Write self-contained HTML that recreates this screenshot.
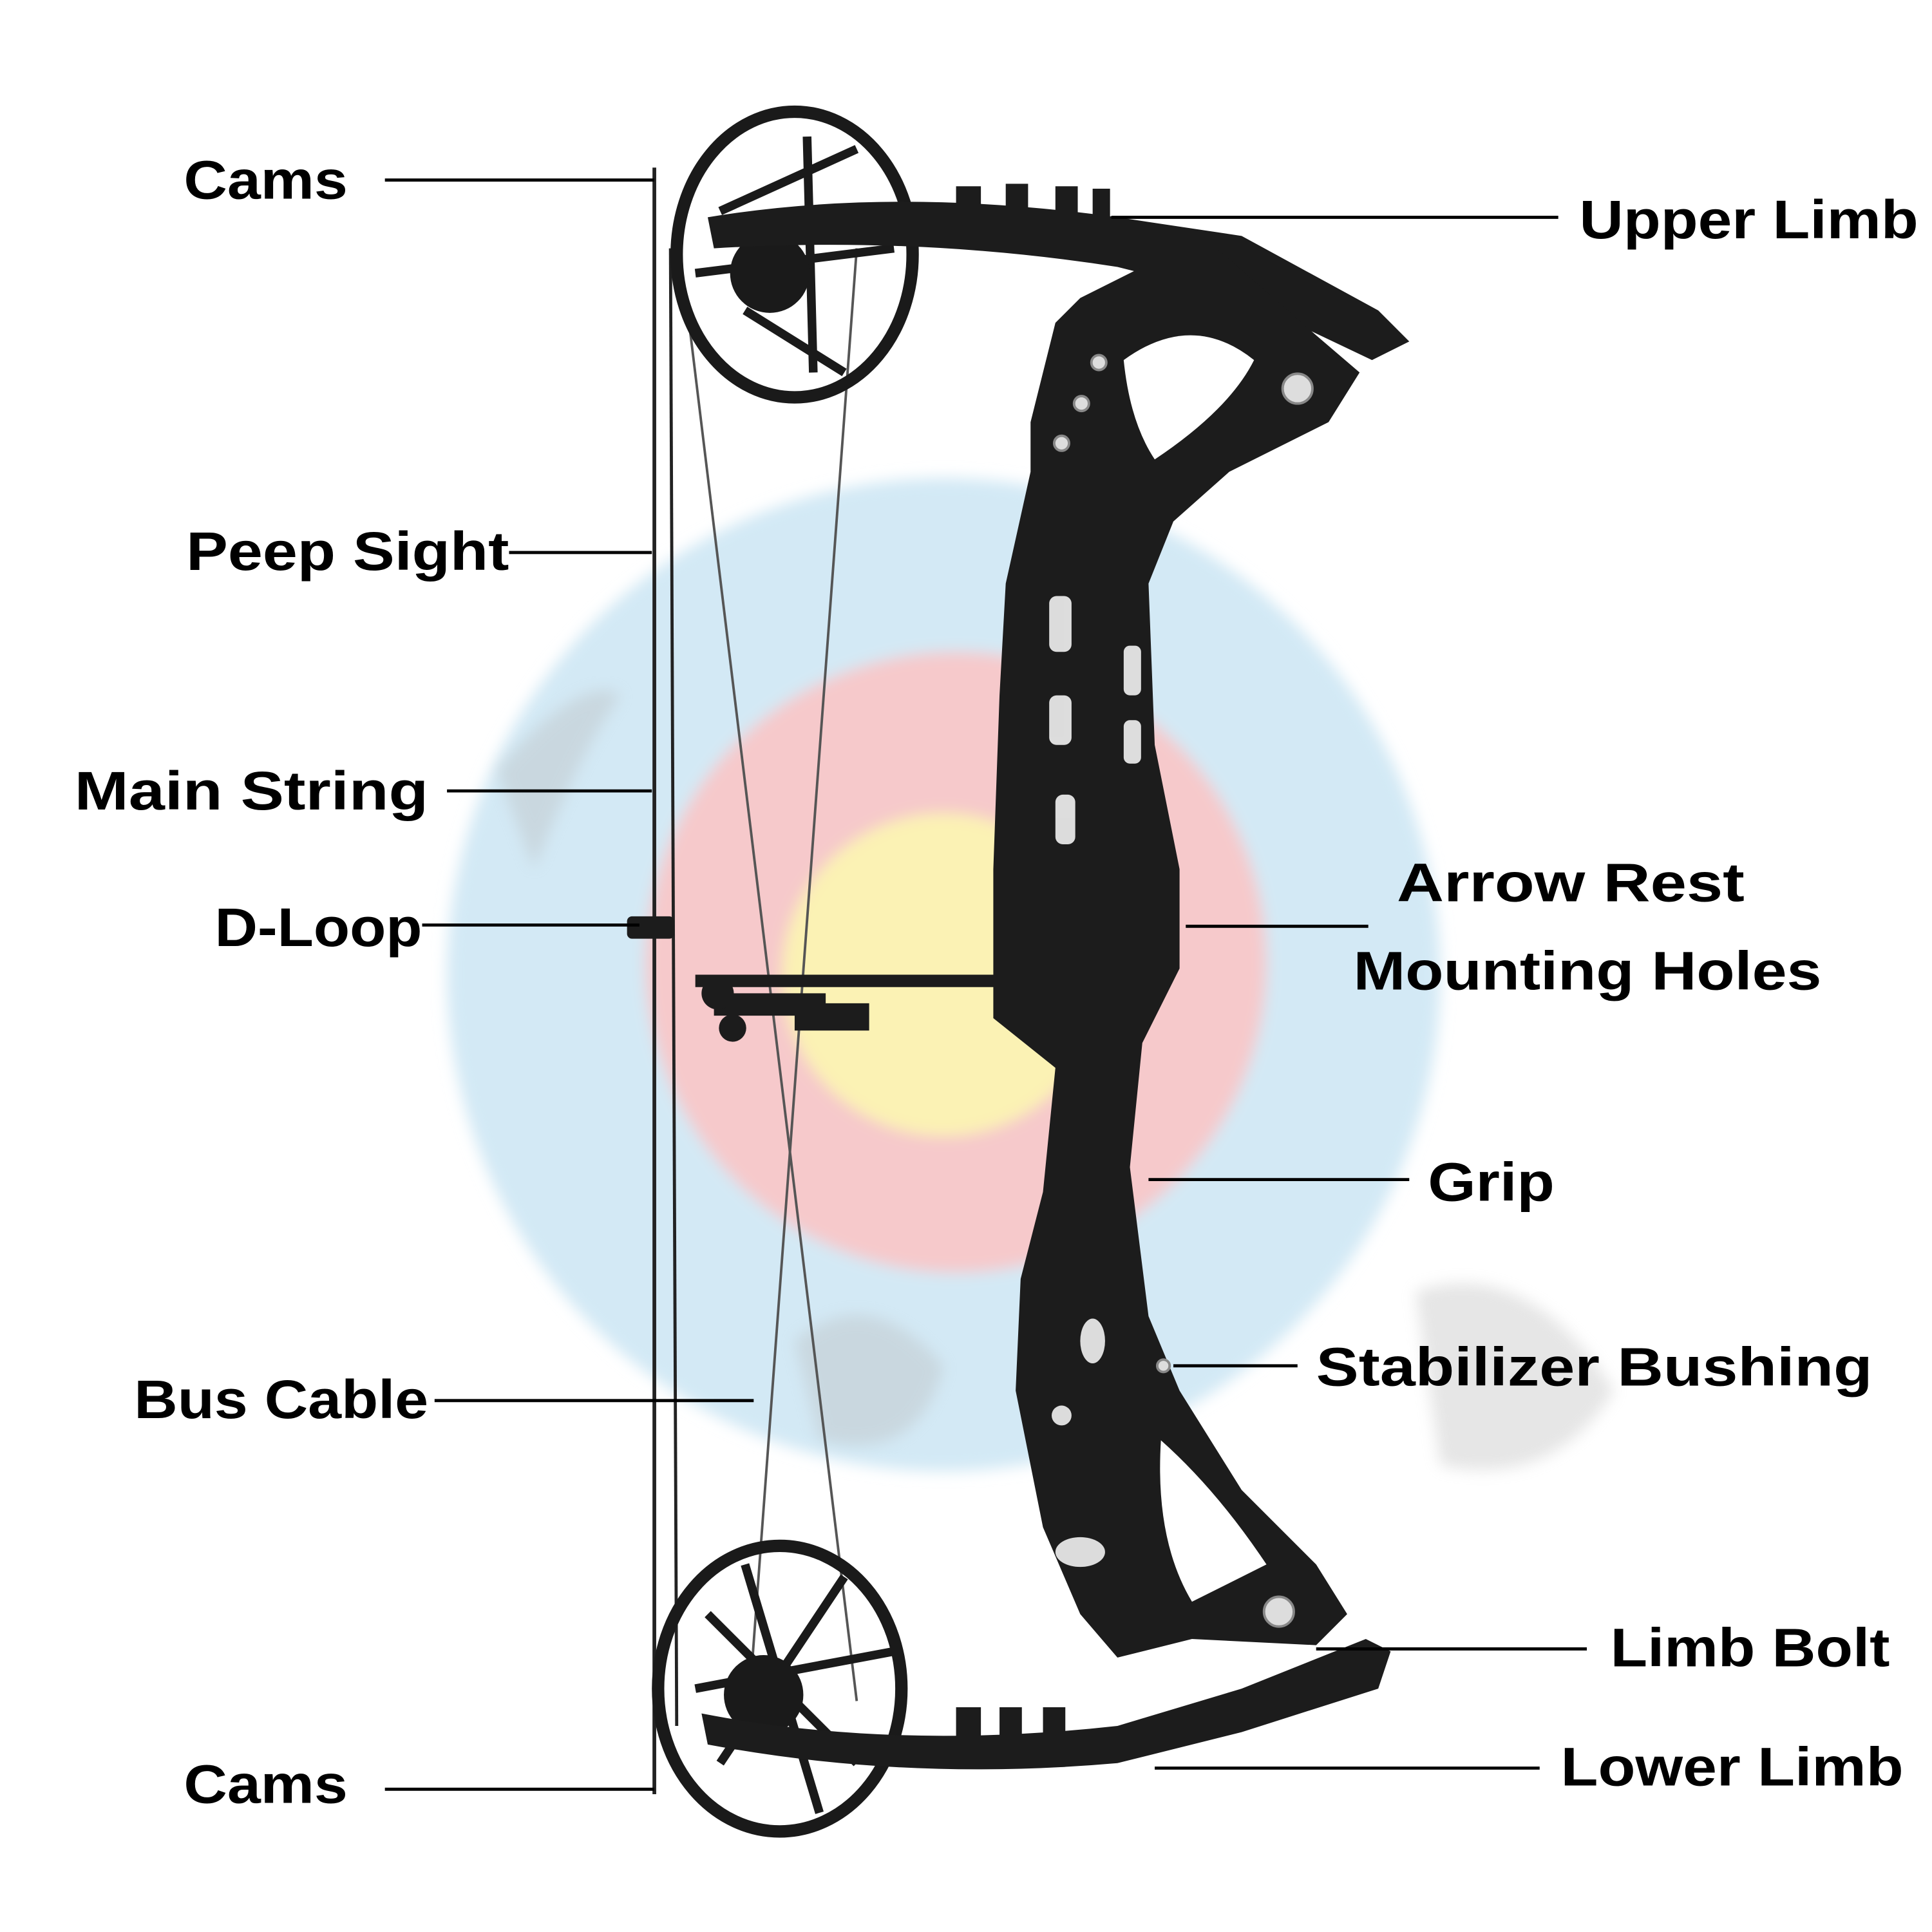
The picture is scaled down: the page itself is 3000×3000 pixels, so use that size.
<!DOCTYPE html>
<html><head><meta charset="utf-8"><style>
html,body{margin:0;padding:0;background:#fff}
svg{display:block}
text{font-family:"Liberation Sans",sans-serif;font-weight:bold;fill:#000}
</style></head><body>
<svg width="3000" height="3000" viewBox="0 0 1556 1556" xmlns="http://www.w3.org/2000/svg">
<defs><filter id="b"><feGaussianBlur stdDeviation="6"/></filter></defs>
<rect width="1556" height="1556" fill="#fff"/>
<g filter="url(#b)">
<circle cx="760" cy="785" r="400" fill="#d3e9f5"/>
<circle cx="770" cy="775" r="250" fill="#f6c9cb"/>
<circle cx="760" cy="785" r="130" fill="#fbf2b4"/>
</g>
<g fill="#b8b8b8" opacity="0.35" filter="url(#b)">
<path d="M400 620 Q470 540 500 560 Q470 600 430 700 Z"/>
<path d="M1140 1040 Q1230 1010 1300 1120 Q1250 1200 1160 1180 Z"/>
<path d="M640 1080 Q700 1030 760 1100 Q740 1180 660 1160 Z"/>
</g>
<!-- strings -->
<g stroke="#222" fill="none">
<line x1="527" y1="135" x2="527" y2="1445" stroke-width="3"/>
<line x1="540" y1="200" x2="545" y2="1390" stroke-width="2.5"/>
<line x1="555" y1="260" x2="690" y2="1370" stroke-width="2" stroke="#555"/>
<line x1="690" y1="200" x2="605" y2="1350" stroke-width="2" stroke="#555"/>
</g>
<!-- cams -->
<g fill="none" stroke="#1a1a1a">
<ellipse cx="640" cy="205" rx="95" ry="115" stroke-width="10"/>
<ellipse cx="628" cy="1360" rx="98" ry="115" stroke-width="10"/>
<path d="M580 170 L690 120 M600 250 L680 300 M650 110 L655 300 M560 220 L720 200" stroke-width="7"/>
<path d="M570 1300 L690 1420 M600 1260 L660 1460 M560 1360 L720 1330 M580 1420 L680 1270" stroke-width="7"/>
</g>
<circle cx="620" cy="220" r="32" fill="#1a1a1a"/>
<circle cx="615" cy="1365" r="32" fill="#1a1a1a"/>
<!-- limbs -->
<g fill="#1c1c1c">
<path d="M570 175 Q720 150 900 175 L1000 190 L1110 250 L1135 275 L1105 290 L1000 240 L900 215 Q740 190 575 200 Z"/>
<path d="M770 150 h20 v50 h-20 Z M810 148 h18 v52 h-18Z M850 150 h18 v50 h-18Z M880 152 h14 v46 h-14Z"/>
<path d="M565 1380 Q720 1410 900 1390 L1000 1360 L1100 1320 L1120 1330 L1110 1360 L1000 1395 L900 1420 Q730 1435 570 1405 Z"/>
<path d="M770 1375 h20 v45 h-20Z M805 1375 h18 v48 h-18Z M840 1375 h18 v48 h-18Z"/>
<!-- riser -->
<path d="M850 260 L870 240 L920 215 L980 200 L1060 270 L1095 300 L1070 340 L990 380 L945 420 L925 470 L930 600 L950 700 L950 780 L920 840 L910 940 L925 1060 L950 1120 L1000 1200 L1060 1260 L1085 1300 L1060 1325 L960 1320 L900 1335 L870 1300 L840 1230 L818 1120 L822 1030 L840 960 L850 860 L800 820 L800 700 L805 560 L810 470 L830 380 L830 340 Z"/>
<!-- arrow rest -->
<path d="M560 785 h260 v10 h-260Z M575 800 h90 v18 h-90Z M640 808 h60 v22 h-60Z"/>
<circle cx="578" cy="800" r="13"/><circle cx="590" cy="828" r="11"/>
<rect x="505" y="738" width="38" height="18" rx="4"/>
</g>
<!-- riser openings -->
<g fill="#fff">
<path d="M905 290 Q960 250 1010 290 Q990 330 930 370 Q910 340 905 290 Z"/>
<path d="M935 1160 Q980 1200 1020 1260 L960 1290 Q930 1240 935 1160 Z"/>
</g>
<g fill="#f2f2f2" opacity="0.9">
<rect x="845" y="480" width="18" height="45" rx="6"/><rect x="845" y="560" width="18" height="40" rx="6"/><rect x="850" y="640" width="16" height="40" rx="6"/>
<rect x="905" y="520" width="14" height="40" rx="5"/><rect x="905" y="580" width="14" height="35" rx="5"/>
<ellipse cx="880" cy="1080" rx="10" ry="18"/><ellipse cx="870" cy="1250" rx="20" ry="12"/>
<ellipse cx="855" cy="1140" rx="8" ry="8"/>
</g>
<g fill="#ddd" stroke="#888" stroke-width="2">
<circle cx="1045" cy="313" r="12"/><circle cx="1030" cy="1298" r="12"/>
<circle cx="885" cy="292" r="6"/><circle cx="871" cy="325" r="6"/><circle cx="855" cy="357" r="6"/>
<circle cx="937" cy="1100" r="5"/>
</g>
<!-- leader lines -->
<g stroke="#000" stroke-width="2.5">
<line x1="310" y1="145" x2="527" y2="145"/>
<line x1="895" y1="175" x2="1255" y2="175"/>
<line x1="410" y1="445" x2="525" y2="445"/>
<line x1="360" y1="637" x2="525" y2="637"/>
<line x1="340" y1="745" x2="515" y2="745"/>
<line x1="955" y1="746" x2="1102" y2="746"/>
<line x1="925" y1="950" x2="1135" y2="950"/>
<line x1="945" y1="1100" x2="1045" y2="1100"/>
<line x1="350" y1="1128" x2="607" y2="1128"/>
<line x1="1060" y1="1328" x2="1278" y2="1328"/>
<line x1="930" y1="1424" x2="1240" y2="1424"/>
<line x1="310" y1="1441" x2="527" y2="1441"/>
</g>
<g font-size="44">
<text x="148" y="160" textLength="132" lengthAdjust="spacingAndGlyphs">Cams</text>
<text x="1272" y="192" textLength="273" lengthAdjust="spacingAndGlyphs">Upper Limb</text>
<text x="150" y="459" textLength="260" lengthAdjust="spacingAndGlyphs">Peep Sight</text>
<text x="60" y="652" textLength="285" lengthAdjust="spacingAndGlyphs">Main String</text>
<text x="173" y="762" textLength="167" lengthAdjust="spacingAndGlyphs">D-Loop</text>
<text x="1125" y="726" textLength="280" lengthAdjust="spacingAndGlyphs">Arrow Rest</text>
<text x="1090" y="797" textLength="377" lengthAdjust="spacingAndGlyphs">Mounting Holes</text>
<text x="1150" y="967" textLength="102" lengthAdjust="spacingAndGlyphs">Grip</text>
<text x="1060" y="1116" textLength="448" lengthAdjust="spacingAndGlyphs">Stabilizer Bushing</text>
<text x="108" y="1142" textLength="237" lengthAdjust="spacingAndGlyphs">Bus Cable</text>
<text x="1297" y="1342" textLength="225" lengthAdjust="spacingAndGlyphs">Limb Bolt</text>
<text x="1257" y="1438" textLength="276" lengthAdjust="spacingAndGlyphs">Lower Limb</text>
<text x="148" y="1452" textLength="132" lengthAdjust="spacingAndGlyphs">Cams</text>
</g>
</svg>
</body></html>
